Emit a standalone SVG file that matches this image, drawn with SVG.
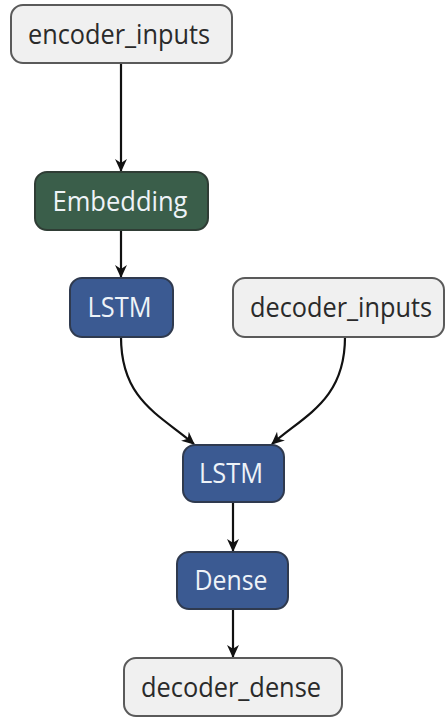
<svg xmlns="http://www.w3.org/2000/svg" width="446" height="718" viewBox="0 0 446 718">
<style>
.box{stroke-width:2}
.light{fill:#f0f0f0;stroke:#5a5a5a}
.blue{fill:#3b5a92;stroke:#2f3a4f}
.green{fill:#3a5e4a;stroke:#2f3d35}
text{font-family:"Open Sans","Noto Sans","DejaVu Sans",sans-serif;font-size:27px;text-anchor:middle}
.dt{fill:#2a2a2a}
.wt{fill:#eef3f8}
.edge{fill:none;stroke:#111;stroke-width:2.2}
</style>
<defs>
<marker id="arr" viewBox="0 0 12 12" refX="11" refY="6" markerWidth="13" markerHeight="13" orient="auto" markerUnits="userSpaceOnUse">
<path d="M0,0.5 L12,6 L0,11.5 L3.5,6 Z" fill="#111"/>
</marker>
</defs>
<g id="connectors">
<path class="edge" d="M121,63 L121,171" marker-end="url(#arr)"/>
<path class="edge" d="M121,230 L121,277" marker-end="url(#arr)"/>
<path class="edge" d="M121,337 C121,400 160,415 194,444" marker-end="url(#arr)"/>
<path class="edge" d="M345,337 C345,400 305,415 272,444" marker-end="url(#arr)"/>
<path class="edge" d="M233,502 L233,551" marker-end="url(#arr)"/>
<path class="edge" d="M233,609 L233,657" marker-end="url(#arr)"/>
</g>
<g id="encoder_inputs">
<rect class="box light" x="11" y="5" width="221" height="58" rx="12"/>
<text class="dt" x="119" y="44" textLength="182" lengthAdjust="spacingAndGlyphs">encoder_inputs</text>
</g>
<g id="embedding">
<rect class="box green" x="35" y="172" width="173" height="58" rx="12"/>
<text class="wt" x="120" y="211" textLength="135" lengthAdjust="spacingAndGlyphs">Embedding</text>
</g>
<g id="lstm_1">
<rect class="box blue" x="70" y="278" width="103" height="59" rx="12"/>
<text class="wt" x="119.5" y="317" textLength="64" lengthAdjust="spacingAndGlyphs">LSTM</text>
</g>
<g id="decoder_inputs">
<rect class="box light" x="233" y="278" width="211" height="59" rx="12"/>
<text class="dt" x="341" y="317" textLength="182" lengthAdjust="spacingAndGlyphs">decoder_inputs</text>
</g>
<g id="lstm_2">
<rect class="box blue" x="183" y="445" width="101" height="57" rx="12"/>
<text class="wt" x="231" y="483" textLength="64" lengthAdjust="spacingAndGlyphs">LSTM</text>
</g>
<g id="dense">
<rect class="box blue" x="177" y="552" width="111" height="57" rx="12"/>
<text class="wt" x="231" y="590" textLength="73" lengthAdjust="spacingAndGlyphs">Dense</text>
</g>
<g id="decoder_dense">
<rect class="box light" x="124" y="658" width="218" height="58" rx="12"/>
<text class="dt" x="231" y="697" textLength="180" lengthAdjust="spacingAndGlyphs">decoder_dense</text>
</g>
</svg>
